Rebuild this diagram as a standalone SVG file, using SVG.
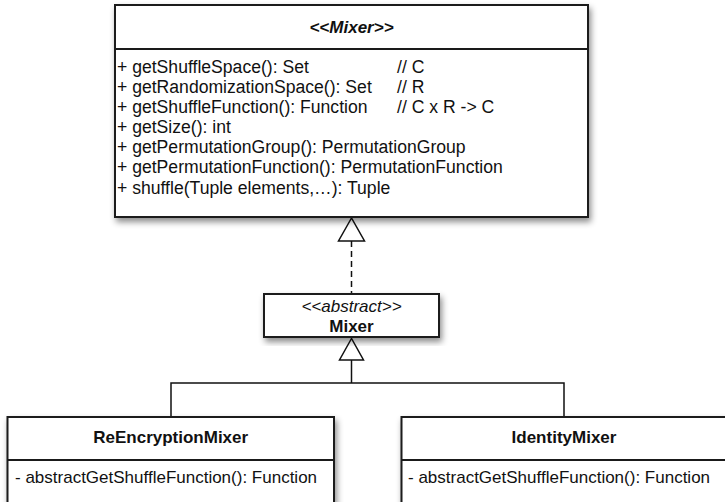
<svg xmlns="http://www.w3.org/2000/svg" width="725" height="502" viewBox="0 0 725 502">
<defs>
<filter id="sh" x="-10%" y="-10%" width="125%" height="130%">
<feDropShadow dx="2" dy="4" stdDeviation="3" flood-color="#000" flood-opacity="0.45"/>
</filter>
</defs>
<style>
.box{fill:#fff;stroke:#1a1a1a;stroke-width:2;filter:url(#sh)}
.div{stroke:#1a1a1a;stroke-width:2;fill:none}
.t{font-family:"Liberation Sans",Arial,sans-serif;font-size:17px;fill:#111}
.tm{font-size:17.6px}
.b{font-weight:bold}
.i{font-style:italic}
.m{text-anchor:middle}
.ln{stroke:#111;stroke-width:1.5;fill:none}
.tri{fill:#fff;stroke:#111;stroke-width:1.5}
</style>
<rect width="725" height="502" fill="#fff"/>
<g id="connectors">
<line class="ln" x1="351.5" y1="241" x2="351.5" y2="294" stroke-dasharray="6,4"/>
<polygon class="tri" points="351.5,218 338.5,241 364.5,241"/>
<line class="ln" x1="351.5" y1="360" x2="351.5" y2="383"/>
<polyline class="ln" points="171,417 171,383 564,383 564,417"/>
<polygon class="tri" points="351.5,338.5 339.5,360 363.5,360"/>
</g>
<g id="imixer">
<rect class="box" x="115" y="5" width="473" height="212"/>
<line class="div" x1="115" y1="49" x2="588" y2="49"/>
<text class="t b i m" x="351.5" y="33">&lt;&lt;Mixer&gt;&gt;</text>
<text class="t tm" x="117" y="73">+ getShuffleSpace(): Set</text>
<text class="t tm" x="117" y="93">+ getRandomizationSpace(): Set</text>
<text class="t tm" x="117" y="113">+ getShuffleFunction(): Function</text>
<text class="t tm" x="117" y="133">+ getSize(): int</text>
<text class="t tm" x="117" y="153">+ getPermutationGroup(): PermutationGroup</text>
<text class="t tm" x="117" y="173">+ getPermutationFunction(): PermutationFunction</text>
<text class="t tm" x="117" y="194">+ shuffle(Tuple elements,…): Tuple</text>
<text class="t tm" x="397" y="73">// C</text>
<text class="t tm" x="397" y="93">// R</text>
<text class="t tm" x="397" y="113">// C x R -&gt; C</text>
</g>
<g id="abstractMixer">
<rect class="box" x="264" y="294" width="175" height="43"/>
<text class="t i m" x="351.5" y="312">&lt;&lt;abstract&gt;&gt;</text>
<text class="t b m" x="351.5" y="332">Mixer</text>
</g>
<g id="reEncryptionMixer">
<rect class="box" x="7.5" y="417" width="326.5" height="100"/>
<line class="div" x1="7.5" y1="460" x2="334" y2="460"/>
<text class="t b m" x="170.7" y="443">ReEncryptionMixer</text>
<text class="t" x="15" y="483">- abstractGetShuffleFunction(): Function</text>
</g>
<g id="identityMixer">
<rect class="box" x="401.5" y="417" width="325" height="100"/>
<line class="div" x1="401.5" y1="460" x2="726.5" y2="460"/>
<text class="t b m" x="564" y="443">IdentityMixer</text>
<text class="t" x="408" y="483">- abstractGetShuffleFunction(): Function</text>
</g>
</svg>
